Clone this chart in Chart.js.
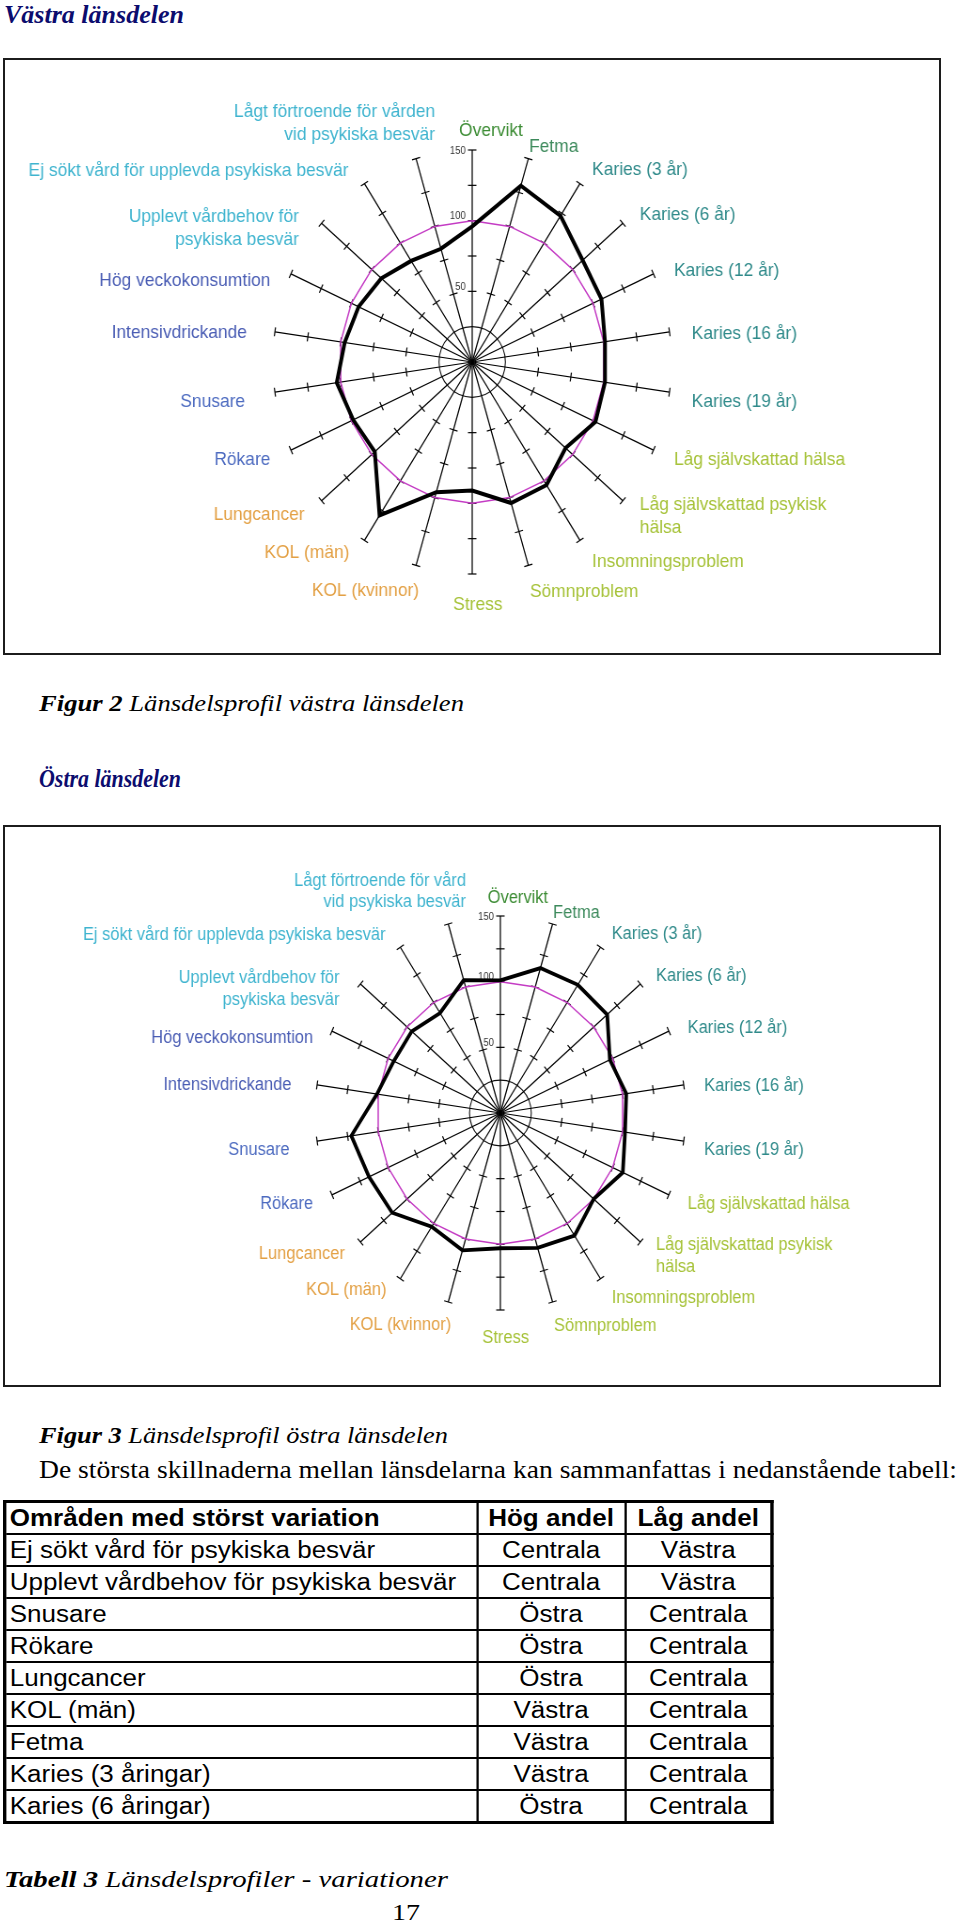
<!DOCTYPE html>
<html lang="sv">
<head>
<meta charset="utf-8">
<title>Länsdelsprofiler</title>
<script src="https://cdn.jsdelivr.net/npm/chart.js@4.4.1/dist/chart.umd.min.js"></script>
<style>
  html, body { margin: 0; padding: 0; background: #fff; }
  body { width: 960px; height: 1924px; position: relative; overflow: hidden; }
  .txt { position: absolute; left: 4px; white-space: nowrap; transform-origin: 0 50%; }
  .ind { left: 39px; }
  .head { font: italic bold 25px 'Liberation Serif', serif; color: #0c0c6e; line-height: 30px; }
  .cap { font: italic 24px 'Liberation Serif', serif; color: #000; line-height: 28px; }
  .cap b { font-weight: bold; }
  .para { font: 25px 'Liberation Serif', serif; color: #000; line-height: 30px; }
  .pageno { font: 24px 'Liberation Serif', serif; line-height: 28px; left: 392px; }
  .box { position: absolute; left: 3px; width: 938px; box-sizing: border-box;
         border: 2px solid #1c1c1c; overflow: hidden; background: #fff; }
  .squish { position: absolute; left: 0; top: 0; width: 994px;
            transform: scaleX(0.94); transform-origin: 0 0; }
  #tableWrap { position: absolute; left: 3px; top: 1500px; transform: scaleX(1.13); transform-origin: 0 0; }
  table { border-collapse: collapse; table-layout: fixed; border: 3px solid #000;
          font: 23px 'Liberation Sans', Arial, sans-serif; color: #000; }
  td { border: 2px solid #000; padding: 0 3px; height: 30px; white-space: nowrap; overflow: hidden; }
  td.c { text-align: center; }
  tr.hd td { font-weight: bold; }
</style>
</head>
<body>

<div class="txt head" style="top:0px" data-w="180">Västra länsdelen</div>
<div class="box" style="top:58px; height:597px;">
  <div class="squish" style="height:593px;"><canvas id="vastra"></canvas></div>
</div>
<div class="txt cap ind" style="top:689px" data-w="425"><b>Figur 2</b> Länsdelsprofil västra länsdelen</div>

<div class="txt head ind" style="top:764px" data-w="142">Östra länsdelen</div>
<div class="box" style="top:825px; height:562px;">
  <div class="squish" style="height:558px;"><canvas id="ostra"></canvas></div>
</div>
<div class="txt cap ind" style="top:1421px" data-w="409"><b>Figur 3</b> Länsdelsprofil östra länsdelen</div>

<div class="txt para ind" style="top:1455px" data-w="918">De största skillnaderna mellan länsdelarna kan sammanfattas i nedanstående tabell:</div>
<div id="tableWrap"></div>
<div class="txt cap" style="top:1865px" data-w="444"><b>Tabell 3</b> Länsdelsprofiler - variationer</div>
<div class="txt pageno" style="top:1898px" data-w="28">17</div>

<script>
// axis names, clockwise from the top
const labelsVastra = ['Övervikt', 'Fetma', 'Karies (3 år)', 'Karies (6 år)', 'Karies (12 år)',
  'Karies (16 år)', 'Karies (19 år)', 'Låg självskattad hälsa', ['Låg självskattad psykisk', 'hälsa'],
  'Insomningsproblem', 'Sömnproblem', 'Stress', 'KOL (kvinnor)', 'KOL (män)', 'Lungcancer',
  'Rökare', 'Snusare', 'Intensivdrickande', 'Hög veckokonsumtion',
  ['Upplevt vårdbehov för', 'psykiska besvär'], 'Ej sökt vård för upplevda psykiska besvär',
  ['Lågt förtroende för vården', 'vid psykiska besvär']];
const labelsOstra = ['Övervikt', 'Fetma', 'Karies (3 år)', 'Karies (6 år)', 'Karies (12 år)',
  'Karies (16 år)', 'Karies (19 år)', 'Låg självskattad hälsa', ['Låg självskattad psykisk', 'hälsa'],
  'Insomningsproblem', 'Sömnproblem', 'Stress', 'KOL (kvinnor)', 'KOL (män)', 'Lungcancer',
  'Rökare', 'Snusare', 'Intensivdrickande', 'Hög veckokonsumtion',
  ['Upplevt vårdbehov för', 'psykiska besvär'], 'Ej sökt vård för upplevda psykiska besvär',
  ['Lågt förtroende för vård', 'vid psykiska besvär']];

// index values (county = 100)
const lanet  = [100, 100, 100, 100, 100, 100, 100, 100, 100, 100, 100,
                100, 100, 100, 100, 100, 100, 100, 100, 100, 100, 100];
const vastra = [96, 130, 123, 110, 107, 101, 101, 102, 93, 103.5, 104,
                91, 96, 129, 97, 98.5, 103, 97, 94, 90.5, 85, 83.5];
const ostra  = [101, 115, 116, 114.5, 97.5, 103, 102, 109, 100, 111, 107,
                103, 109, 103, 116, 117, 122, 101, 95, 95, 90.5, 105.5];

// tick marks on every spoke, and the numbers printed on the top spoke
const markValues = [50, 75, 100, 125, 150];
const axisTickLabels = [50, 100, 150];

// colour of each axis name, by topic group
const labelColors = ['#3c8c34', '#3d8a5c',
  '#2f8a8a', '#2f8a8a', '#2f8a8a', '#2f8a8a', '#2f8a8a',
  '#a6c238', '#a6c238', '#a6c238', '#a6c238', '#a6c238',
  '#e3a044', '#e3a044', '#e3a044',
  '#4d6bc0', '#4d6bc0', '#4a5db4', '#4a5db4',
  '#3fb4cf', '#3fb4cf', '#3fb4cf'];

// hand placement of the axis names in the original, in px on the big chart
const labelShiftX = [20, -6, 0, 0, 0, 0, 0, 0, 0, 0, -5, 6, 10, -3, 0, 0, -8, -6, 0, -6, -4, 27];
const labelShiftY = [5, 11, 6, 7, 7, 5, 6, 0, 0, 1, 3, 7, 2, -8, -2, 0, 6, 4, 17, 21, 7, -12];

// table below the charts
const areas = ['Ej sökt vård för psykiska besvär', 'Upplevt vårdbehov för psykiska besvär', 'Snusare',
  'Rökare', 'Lungcancer', 'KOL (män)', 'Fetma', 'Karies (3 åringar)', 'Karies (6 åringar)'];
const highShare = ['Centrala', 'Centrala', 'Östra', 'Östra', 'Östra', 'Västra', 'Västra', 'Västra', 'Östra'];
const lowShare = ['Västra', 'Västra', 'Centrala', 'Centrala', 'Centrala', 'Centrala', 'Centrala', 'Centrala', 'Centrala'];

// draws the little cross ticks, the 50/100/150 numbers and the axis names
const spokeMarks = {
  id: 'spokeMarks',
  beforeDatasetsDraw(chart, args, opts) {
    const scale = chart.scales.r;
    const ctx = chart.ctx;
    const n = chart.data.labels.length;
    ctx.save();
    ctx.strokeStyle = '#000';
    ctx.lineWidth = 1.2;
    for (let i = 0; i < n; i++) {
      const a = scale.getIndexAngle(i) - Math.PI / 2;
      const nx = -Math.sin(a) * opts.half;
      const ny = Math.cos(a) * opts.half;
      for (const v of markValues) {
        const p = scale.getPointPositionForValue(i, v);
        ctx.beginPath();
        ctx.moveTo(p.x - nx, p.y - ny);
        ctx.lineTo(p.x + nx, p.y + ny);
        ctx.stroke();
      }
    }
    // numbers on the upward spoke:
    ctx.fillStyle = '#333';
    ctx.font = opts.tickFont;
    ctx.textAlign = 'right';
    for (const v of axisTickLabels) {
      const p = scale.getPointPositionForValue(0, v);
      ctx.textBaseline = v === scale.max ? 'middle' : 'bottom';
      ctx.fillText(String(v), p.x - 7, p.y + 1);
    }
    // axis names just outside the spoke ends:
    ctx.font = opts.labelFont;
    ctx.textBaseline = 'middle';
    for (let i = 0; i < n; i++) {
      const text = chart.data.labels[i];
      const lines = Array.isArray(text) ? text : [text];
      const p = scale.getPointPosition(i, scale.drawingArea + opts.pad);
      const s = Math.sin(scale.getIndexAngle(i));
      ctx.textAlign = s > 0.05 ? 'left' : (s < -0.05 ? 'right' : 'center');
      ctx.fillStyle = labelColors[i];
      const x = p.x + labelShiftX[i] * opts.shift;
      const y0 = p.y + labelShiftY[i] * opts.shift - (lines.length - 1) * opts.lineHeight / 2;
      lines.forEach((line, k) => ctx.fillText(line, x, y0 + k * opts.lineHeight));
    }
    ctx.restore();
  }
};

function makeRadar(id, labels, values, geo) {
  return new Chart(document.getElementById(id), {
    type: 'radar',
    data: {
      labels: labels,
      datasets: [{
        label: 'Länsdel',
        data: values,
        borderColor: '#000',
        borderWidth: geo.lineWidth,
        pointRadius: 0,
        fill: false
      }, {
        label: 'Länet',
        data: lanet,
        borderColor: '#c43cc4',
        borderWidth: 1.5,
        pointRadius: 0,
        fill: false
      }]
    },
    options: {
      responsive: true,
      maintainAspectRatio: false,
      animation: false,
      layout: { padding: geo.padding },
      plugins: {
        legend: { display: false },
        tooltip: { enabled: false },
        spokeMarks: {
          half: 4.5,
          pad: geo.pad,
          shift: geo.shift,
          lineHeight: geo.lineHeight,
          labelFont: geo.fontSize + 'px "Liberation Sans", Arial, sans-serif',
          tickFont: '10px "Liberation Sans", Arial, sans-serif'
        }
      },
      scales: {
        r: {
          min: 0,
          max: 150,
          ticks: { stepSize: 25, display: false },
          // only the small hub circle at 25 is drawn:
          grid: {
            circular: true,
            color: (c) => (c.tick && c.tick.value === 25) ? '#111' : 'rgba(0,0,0,0)',
            lineWidth: 1.1
          },
          angleLines: { color: '#000', lineWidth: 1.25 },
          pointLabels: { display: false }
        }
      }
    },
    plugins: [spokeMarks]
  });
}

makeRadar('vastra', labelsVastra, vastra, {
  padding: { left: 285, right: 285, top: 90, bottom: 79 },
  pad: 24, shift: 1, lineHeight: 23, fontSize: 18.5, lineWidth: 4
});
makeRadar('ostra', labelsOstra, ostra, {
  padding: { left: 330, right: 270, top: 89, bottom: 75 },
  pad: 22, shift: 0.93, lineHeight: 21.5, fontSize: 17.5, lineWidth: 3.8
});

// build the table
let html = '<table><colgroup><col style="width:418px"><col style="width:131px"><col style="width:130px"></colgroup>';
html += '<tr class="hd"><td>Områden med störst variation</td><td class="c">Hög andel</td><td class="c">Låg andel</td></tr>';
for (let i = 0; i < areas.length; i++) {
  html += '<tr><td>' + areas[i] + '</td><td class="c">' + highShare[i] + '</td><td class="c">' + lowShare[i] + '</td></tr>';
}
html += '</table>';
document.getElementById('tableWrap').innerHTML = html;

// stretch each text line to the width it has on the page
for (const el of document.querySelectorAll('[data-w]')) {
  const w = el.getBoundingClientRect().width;
  if (w > 0) el.style.transform = 'scaleX(' + (parseFloat(el.dataset.w) / w) + ')';
}
</script>
</body>
</html>
